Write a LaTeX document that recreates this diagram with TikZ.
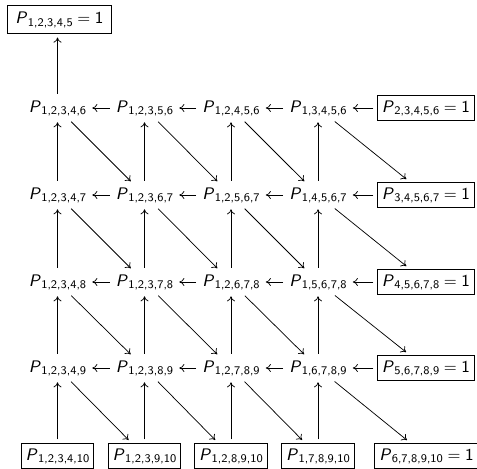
\documentclass[tikz,border=0pt]{standalone}
\usetikzlibrary{arrows.meta}
\newcommand{\PP}[1]{\textit{P}\kern0.2pt\raisebox{-1.5pt}{\fontsize{6.5}{8}\selectfont #1}}
\newcommand{\eqone}{${}={}$1}
\begin{document}
\begin{tikzpicture}[x=0.5556pt,y=-0.5556pt, font=\sffamily\fontsize{9.3}{11}\selectfont,
  every node/.style={text height=6.8pt, text depth=2.3pt, inner sep=2pt},
  box/.style={draw, inner sep=2.5pt, outer sep=1pt, line width=0.5pt},
  topbox/.style={box, inner xsep=4.6pt, inner ysep=3.3pt},
  arr/.style={-{To[length=2.8pt,width=4.4pt]}, shorten >=1.2pt, shorten <=1.2pt}]
\useasboundingbox (0,0) rectangle (477,468);
\clip (0,0) rectangle (477,468);
% top
\node[topbox] (t) at (59.5,19.5) {\PP{1,2,3,4,5}\eqone};
% row 1
\node (n10) at (57.5,108) {\PP{1,2,3,4,6}};
\node (n11) at (144.5,108) {\PP{1,2,3,5,6}};
\node (n12) at (231,108) {\PP{1,2,4,5,6}};
\node (n13) at (318,108) {\PP{1,3,4,5,6}};
\node[box] (n14) at (426,108) {\PP{2,3,4,5,6}\eqone};
% row 2
\node (n20) at (57.5,195) {\PP{1,2,3,4,7}};
\node (n21) at (144.5,195) {\PP{1,2,3,6,7}};
\node (n22) at (231,195) {\PP{1,2,5,6,7}};
\node (n23) at (318,195) {\PP{1,4,5,6,7}};
\node[box] (n24) at (426,195) {\PP{3,4,5,6,7}\eqone};
% row 3
\node (n30) at (57.5,282) {\PP{1,2,3,4,8}};
\node (n31) at (144.5,282) {\PP{1,2,3,7,8}};
\node (n32) at (231,282) {\PP{1,2,6,7,8}};
\node (n33) at (318,282) {\PP{1,5,6,7,8}};
\node[box] (n34) at (426,282) {\PP{4,5,6,7,8}\eqone};
% row 4
\node (n40) at (57.5,368) {\PP{1,2,3,4,9}};
\node (n41) at (144.5,368) {\PP{1,2,3,8,9}};
\node (n42) at (231,368) {\PP{1,2,7,8,9}};
\node (n43) at (318,368) {\PP{1,6,7,8,9}};
\node[box] (n44) at (426,368) {\PP{5,6,7,8,9}\eqone};
% row 5
\node[box] (n50) at (57.5,456) {\PP{1,2,3,4,10}};
\node[box] (n51) at (144.5,456) {\PP{1,2,3,9,10}};
\node[box] (n52) at (231,456) {\PP{1,2,8,9,10}};
\node[box] (n53) at (318,456) {\PP{1,7,8,9,10}};
\node[box] (n54) at (426.5,456) {\PP{6,7,8,9,10}\eqone};
% arrows
\draw[arr] (n10.north) -- (n10.north |- t.south);
\foreach \r/\s in {1/2,2/3,3/4,4/5}{
  \foreach \c/\d in {0/1,1/2,2/3,3/4}{
    \draw[arr] (n\r\d) -- (n\r\c);
    \draw[arr] (n\s\c) -- (n\r\c);
    \draw[arr] (n\r\c) -- (n\s\d);
  }
}
\end{tikzpicture}
\end{document}
